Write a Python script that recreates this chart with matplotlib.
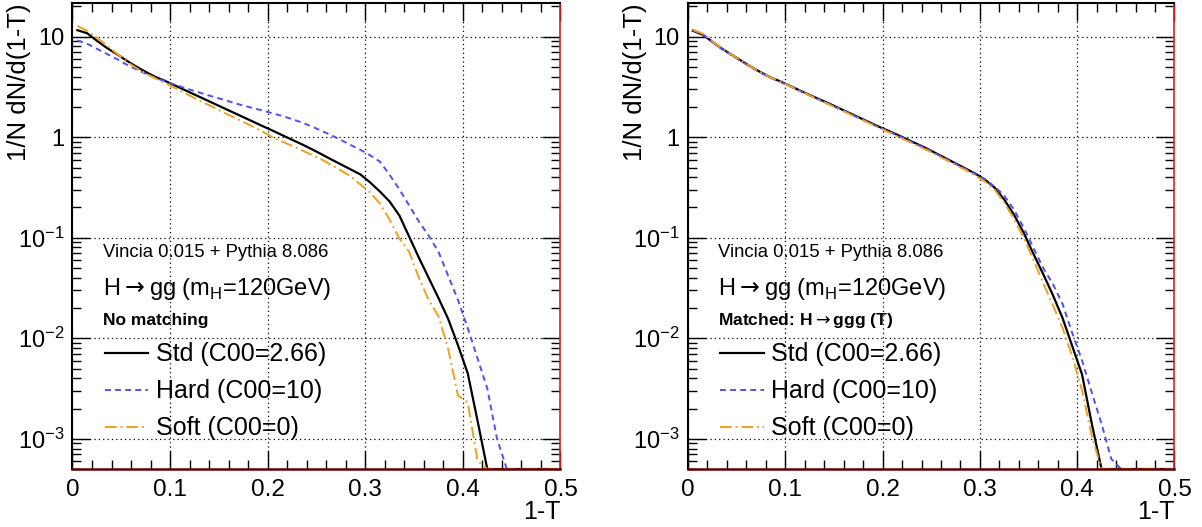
import numpy as np
import matplotlib
matplotlib.use("Agg")
import matplotlib.pyplot as plt
from matplotlib.ticker import LogLocator, MultipleLocator, NullFormatter

plt.rcParams["font.family"] = ["Liberation Sans", "DejaVu Sans"]
plt.rcParams["mathtext.fontset"] = "custom"
plt.rcParams["mathtext.rm"] = "Liberation Sans"
plt.rcParams["mathtext.it"] = "Liberation Sans:italic"
plt.rcParams["mathtext.bf"] = "Liberation Sans:bold"

# bin centres of 1-T (bin width 0.01)
BINS = np.arange(50) * 0.01 + 0.005

# log10 of 1/N dN/d(1-T), None = empty bin
# left panel: no matching
STD_NOMATCH = [1.065, 1.035, 0.96, 0.89, 0.83, 0.765, 0.705, 0.65, 0.60, 0.56,
               0.515, 0.47, 0.425, 0.38, 0.335, 0.29, 0.245, 0.20, 0.155, 0.11,
               0.066, 0.02, -0.025, -0.07, -0.118, -0.168, -0.22, -0.27, -0.32, -0.37,
               -0.45, -0.54, -0.64, -0.78, -0.99, -1.20, -1.40, -1.60, -1.81, -2.07,
               -2.35, -2.82, None, None, None, None, None, None, None, None]
HARD_NOMATCH = [0.963, 0.93, 0.88, 0.83, 0.78, 0.725, 0.677, 0.632, 0.59, 0.556,
                0.522, 0.49, 0.46, 0.43, 0.40, 0.373, 0.343, 0.315, 0.29, 0.265,
                0.238, 0.212, 0.18, 0.147, 0.108, 0.065, 0.02, -0.027, -0.077, -0.125,
                -0.18, -0.243, -0.375, -0.52, -0.68, -0.84, -0.98, -1.14, -1.38, -1.62,
                -1.90, -2.20, -2.50, -3.0, None, None, None, None, None, None]
SOFT_NOMATCH = [1.107, 1.06, 0.99, 0.915, 0.835, 0.757, 0.69, 0.633, 0.585, 0.538,
                0.49, 0.44, 0.39, 0.342, 0.295, 0.245, 0.20, 0.152, 0.105, 0.054,
                0.0, -0.045, -0.085, -0.13, -0.175, -0.22, -0.275, -0.33, -0.39, -0.47,
                -0.55, -0.66, -0.82, -1.01, -1.14, -1.40, -1.62, -1.78, -2.11, -2.57,
                -2.64, -3.22, None, None, None, None, None, None, None, None]

# right panel: matched to H->ggg
STD_MATCH = [1.06, 1.02, 0.95, 0.88, 0.82, 0.76, 0.70, 0.645, 0.595, 0.555,
             0.51, 0.465, 0.42, 0.378, 0.335, 0.29, 0.245, 0.20, 0.155, 0.11,
             0.068, 0.025, -0.02, -0.065, -0.11, -0.16, -0.21, -0.26, -0.31, -0.36,
             -0.42, -0.50, -0.62, -0.77, -0.95, -1.16, -1.36, -1.57, -1.80, -2.08,
             -2.36, -2.85, None, None, None, None, None, None, None, None]
HARD_MATCH = [1.065, 1.025, 0.95, 0.875, 0.815, 0.755, 0.695, 0.64, 0.59, 0.55,
              0.505, 0.46, 0.415, 0.372, 0.33, 0.285, 0.24, 0.195, 0.15, 0.105,
              0.062, 0.02, -0.025, -0.07, -0.115, -0.165, -0.215, -0.265, -0.315, -0.365,
              -0.42, -0.49, -0.58, -0.72, -0.90, -1.10, -1.30, -1.46, -1.66, -1.95,
              -2.22, -2.54, -2.85, -3.2, None, None, None, None, None, None]
SOFT_MATCH = [1.07, 1.03, 0.955, 0.88, 0.82, 0.76, 0.70, 0.645, 0.595, 0.552,
              0.507, 0.46, 0.415, 0.37, 0.325, 0.28, 0.235, 0.19, 0.145, 0.10,
              0.055, 0.01, -0.035, -0.08, -0.125, -0.175, -0.225, -0.275, -0.325, -0.38,
              -0.44, -0.52, -0.65, -0.81, -1.00, -1.22, -1.45, -1.67, -1.90, -2.18,
              -2.52, -2.97, None, None, None, None, None, None, None, None]

LABELS = ["Std (C00=2.66)", "Hard (C00=10)", "Soft (C00=0)"]
TITLES = ["No matching", r"Matched: H$\rightarrow$ggg (T)"]
XTICKS = [0, 0.1, 0.2, 0.3, 0.4, 0.5]
XTICKLABELS = ["0", "0.1", "0.2", "0.3", "0.4", "0.5"]
YTICKS = [1e-3, 1e-2, 1e-1, 1, 10]
YTICKLABELS = [r"$\mathregular{10^{-3}}$", r"$\mathregular{10^{-2}}$",
               r"$\mathregular{10^{-1}}$", "1", "10"]

YMIN, YMAX = 5.0e-4, 21.5


def to_values(logs):
    # empty bins are drawn along the bottom of the frame, as ROOT does
    return np.array([10 ** v if v is not None else YMIN for v in logs])


fig = plt.figure(figsize=(12.02, 5.27), dpi=100)
ax_l = fig.add_axes([0.0603, 0.110, 0.406, 0.8837])
ax_r = fig.add_axes([0.5724, 0.110, 0.4047, 0.8837])

styles = [
    dict(color="black", lw=1.6, ls="-"),
    dict(color="#5050f0", lw=1.4, ls=(0, (3, 2.2))),
    dict(color="#f0a020", lw=1.4, ls=(0, (6, 2, 1, 2))),
]

panels = [
    (ax_l, [STD_NOMATCH, HARD_NOMATCH, SOFT_NOMATCH], TITLES[0]),
    (ax_r, [STD_MATCH, HARD_MATCH, SOFT_MATCH], TITLES[1]),
]

for ax, series, title in panels:
    for logs, st, lab in zip(series, styles, LABELS):
        ax.plot(BINS, to_values(logs), label=lab, clip_on=True, **st)

    ax.set_yscale("log")
    ax.set_xlim(0, 0.5)
    ax.set_ylim(YMIN, YMAX)
    ax.set_xticks(XTICKS, XTICKLABELS)
    ax.set_yticks(YTICKS, YTICKLABELS)
    ax.xaxis.set_minor_locator(MultipleLocator(0.02))
    ax.yaxis.set_minor_locator(LogLocator(base=10, subs=np.arange(2, 10)))
    ax.yaxis.set_minor_formatter(NullFormatter())
    ax.tick_params(which="both", direction="in", top=True, right=True, width=1.0)
    ax.tick_params(axis="x", labelsize=17.5)
    ax.tick_params(axis="y", labelsize=17)
    ax.tick_params(which="major", length=13)
    ax.tick_params(axis="x", which="major", pad=7)
    ax.tick_params(axis="y", which="major", pad=6)
    ax.tick_params(which="minor", length=6.5)
    ax.grid(True, which="major", color="black", ls=(0, (1, 2.5)), lw=0.9)

    ax.set_xlabel("1-T", loc="right", fontsize=18)
    ax.xaxis.set_label_coords(1.0, -0.067)
    ax.set_ylabel("1/N dN/d(1-T)", loc="top", fontsize=18.5)
    ax.yaxis.set_label_coords(-0.085, 1.0)

    for side in ["left", "top"]:
        ax.spines[side].set_linewidth(1.5)
        ax.spines[side].set_color("black")
    ax.spines["bottom"].set_linewidth(1.8)
    ax.spines["bottom"].set_color("#600000")
    ax.spines["right"].set_linewidth(1.2)
    ax.spines["right"].set_color("#e02020")

    ax.text(0.0625, 0.464, "Vincia 0.015 + Pythia 8.086", transform=ax.transAxes,
            fontsize=13.3, va="center", ha="left")
    ax.text(0.0625, 0.386, r"H$\rightarrow$gg (m$_{\mathregular{H}}$=120GeV)",
            transform=ax.transAxes, fontsize=17, va="center", ha="left",
            math_fontfamily="dejavusans")
    ax.text(0.0625, 0.318, title, transform=ax.transAxes, fontsize=12.5,
            fontweight="bold", va="center", ha="left",
            math_fontfamily="dejavusans")

    ax.legend(loc="upper left", bbox_to_anchor=(0.066, 0.272), frameon=False,
              fontsize=18, handlelength=1.75, handletextpad=0.3,
              labelspacing=0.52, borderaxespad=0, borderpad=0)

fig.savefig("out.png", dpi=100)
